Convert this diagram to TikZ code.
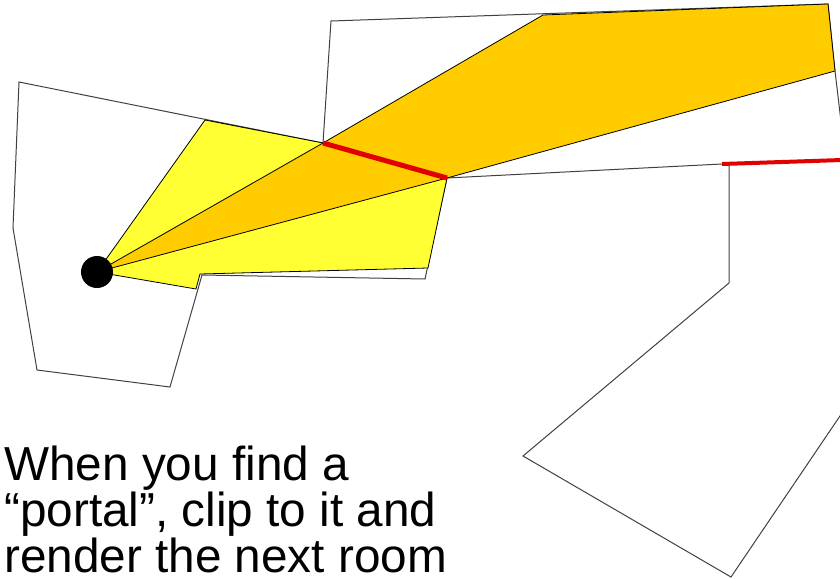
\documentclass[tikz,border=0pt]{standalone}
\usepackage{fontspec}
\setmainfont{Liberation Sans}
\definecolor{viewyellow}{HTML}{FFFF33}
\definecolor{portalorange}{HTML}{FFCC00}
\definecolor{portalred}{HTML}{E00000}
\begin{document}
\begin{tikzpicture}[x=1pt,y=-1pt,
  wall/.style={draw=black!75, line width=1pt, line join=miter},
  frustum/.style={draw=black, line width=0.8pt, line join=miter},
  portalline/.style={draw=portalred, line width=5pt},
  caption/.style={anchor=base west, inner sep=0pt, font=\fontsize{47.7}{46.5}\selectfont}]
\useasboundingbox (0,0) rectangle (840,578);
\clip (0,0) rectangle (840,578);
% coordinates
\coordinate (eye) at (97,272);
\coordinate (pA) at (323,143);
\coordinate (pB) at (447,178);
\coordinate (qA) at (722,164);
\coordinate (qB) at (842,160);
% rooms (walls)
\draw[wall] (pA) -- (19,82) -- (13,228) -- (37,370) -- (170,387) -- (202,275) -- (425,279) -- (pB);
\draw[wall] (pA) -- (331,21) -- (828,4) -- (835,71) -- (842,130);
\draw[wall] (pB) -- (qA);
\draw[wall] (729,165) -- (729,283) -- (523,456) -- (731,577) -- (842,413);
% view area in first room
\filldraw[frustum, fill=viewyellow] (eye) -- (205,120) -- (pA) -- (pB) -- (428,268) -- (200,274) -- (196,289) -- cycle;
% frustum through the portal
\filldraw[frustum, fill=portalorange] (eye) -- (pA) -- (543,15) -- (828,4) -- (835,71) -- (pB) -- cycle;
% portals
\draw[portalline] (pA) -- (pB);
\draw[portalline, line width=4pt] (qA) -- (qB);
% viewer
\fill[black] (eye) circle (16);
% caption
\node[caption] (line1) at (4,480.5) {When you find a};
\node[caption] (line2) at (4,526.5) {“portal”, clip to it and};
\node[caption] (line3) at (4,572.5) {render the next room};
\end{tikzpicture}
\end{document}
